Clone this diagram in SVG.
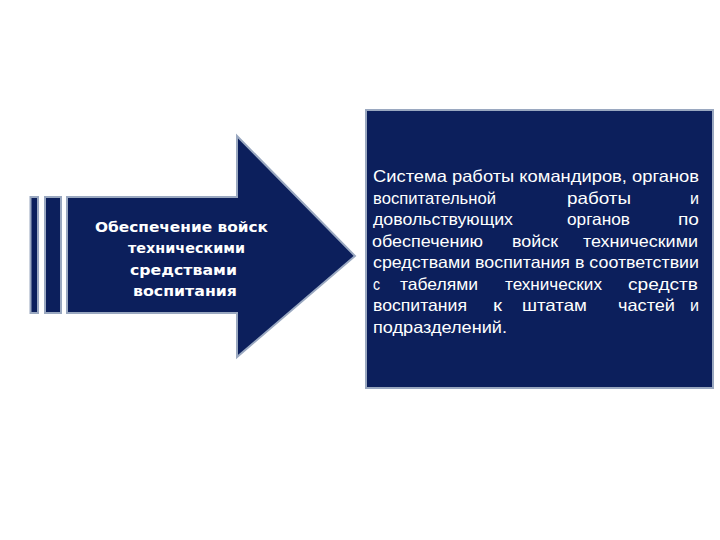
<svg xmlns="http://www.w3.org/2000/svg" width="720" height="540" viewBox="0 0 720 540">
<style>
.shape{fill:#0c1f5c;stroke:#9aa8c0;stroke-width:2}
.lt{font-family:"DejaVu Sans","Liberation Sans",sans-serif;font-weight:bold;font-size:14.5px;fill:#ffffff;text-anchor:middle}
.rt{font-family:"Liberation Sans",Arial,sans-serif;font-size:16.5px;fill:#ffffff}
</style>
<rect width="720" height="540" fill="#ffffff"/>
<g id="arrow">
<rect class="shape" x="30.5" y="197" width="7.5" height="116"/>
<rect class="shape" x="45" y="197" width="16" height="116"/>
<polygon class="shape" points="67,197 237,197 237,136 355,256 237,357 237,313 67,313"/>
<text class="lt" x="181.5" y="232" textLength="173" lengthAdjust="spacingAndGlyphs">Обеспечение войск</text>
<text class="lt" x="186.5" y="253" textLength="117" lengthAdjust="spacingAndGlyphs">техническими</text>
<text class="lt" x="183.5" y="275" textLength="107" lengthAdjust="spacingAndGlyphs">средствами</text>
<text class="lt" x="185" y="296" textLength="104" lengthAdjust="spacingAndGlyphs">воспитания</text>
</g>
<g id="box">
<rect class="shape" x="366" y="110" width="347" height="278"/>
<text class="rt" x="373" y="182" textLength="326" lengthAdjust="spacingAndGlyphs">Система работы командиров, органов</text>
<text class="rt" x="373" y="203.5" textLength="123" lengthAdjust="spacingAndGlyphs">воспитательной</text>
<text class="rt" x="567" y="203.5" textLength="64" lengthAdjust="spacingAndGlyphs">работы</text>
<text class="rt" x="690" y="203.5" textLength="9" lengthAdjust="spacingAndGlyphs">и</text>
<text class="rt" x="373" y="225" textLength="140" lengthAdjust="spacingAndGlyphs">довольствующих</text>
<text class="rt" x="567" y="225" textLength="63" lengthAdjust="spacingAndGlyphs">органов</text>
<text class="rt" x="678" y="225" textLength="21" lengthAdjust="spacingAndGlyphs">по</text>
<text class="rt" x="372" y="246.5" textLength="111" lengthAdjust="spacingAndGlyphs">обеспечению</text>
<text class="rt" x="512" y="246.5" textLength="46" lengthAdjust="spacingAndGlyphs">войск</text>
<text class="rt" x="583" y="246.5" textLength="115" lengthAdjust="spacingAndGlyphs">техническими</text>
<text class="rt" x="373" y="268" textLength="326" lengthAdjust="spacingAndGlyphs">средствами воспитания в соответствии</text>
<text class="rt" x="373" y="289.5" textLength="7" lengthAdjust="spacingAndGlyphs">с</text>
<text class="rt" x="400" y="289.5" textLength="78" lengthAdjust="spacingAndGlyphs">табелями</text>
<text class="rt" x="505" y="289.5" textLength="97" lengthAdjust="spacingAndGlyphs">технических</text>
<text class="rt" x="628" y="289.5" textLength="70" lengthAdjust="spacingAndGlyphs">средств</text>
<text class="rt" x="373" y="311" textLength="94" lengthAdjust="spacingAndGlyphs">воспитания</text>
<text class="rt" x="493" y="311" textLength="9" lengthAdjust="spacingAndGlyphs">к</text>
<text class="rt" x="522" y="311" textLength="65" lengthAdjust="spacingAndGlyphs">штатам</text>
<text class="rt" x="618" y="311" textLength="57" lengthAdjust="spacingAndGlyphs">частей</text>
<text class="rt" x="690" y="311" textLength="9" lengthAdjust="spacingAndGlyphs">и</text>
<text class="rt" x="373" y="332.5" textLength="134" lengthAdjust="spacingAndGlyphs">подразделений.</text>
</g>
<g id="connectors"></g>
</svg>
